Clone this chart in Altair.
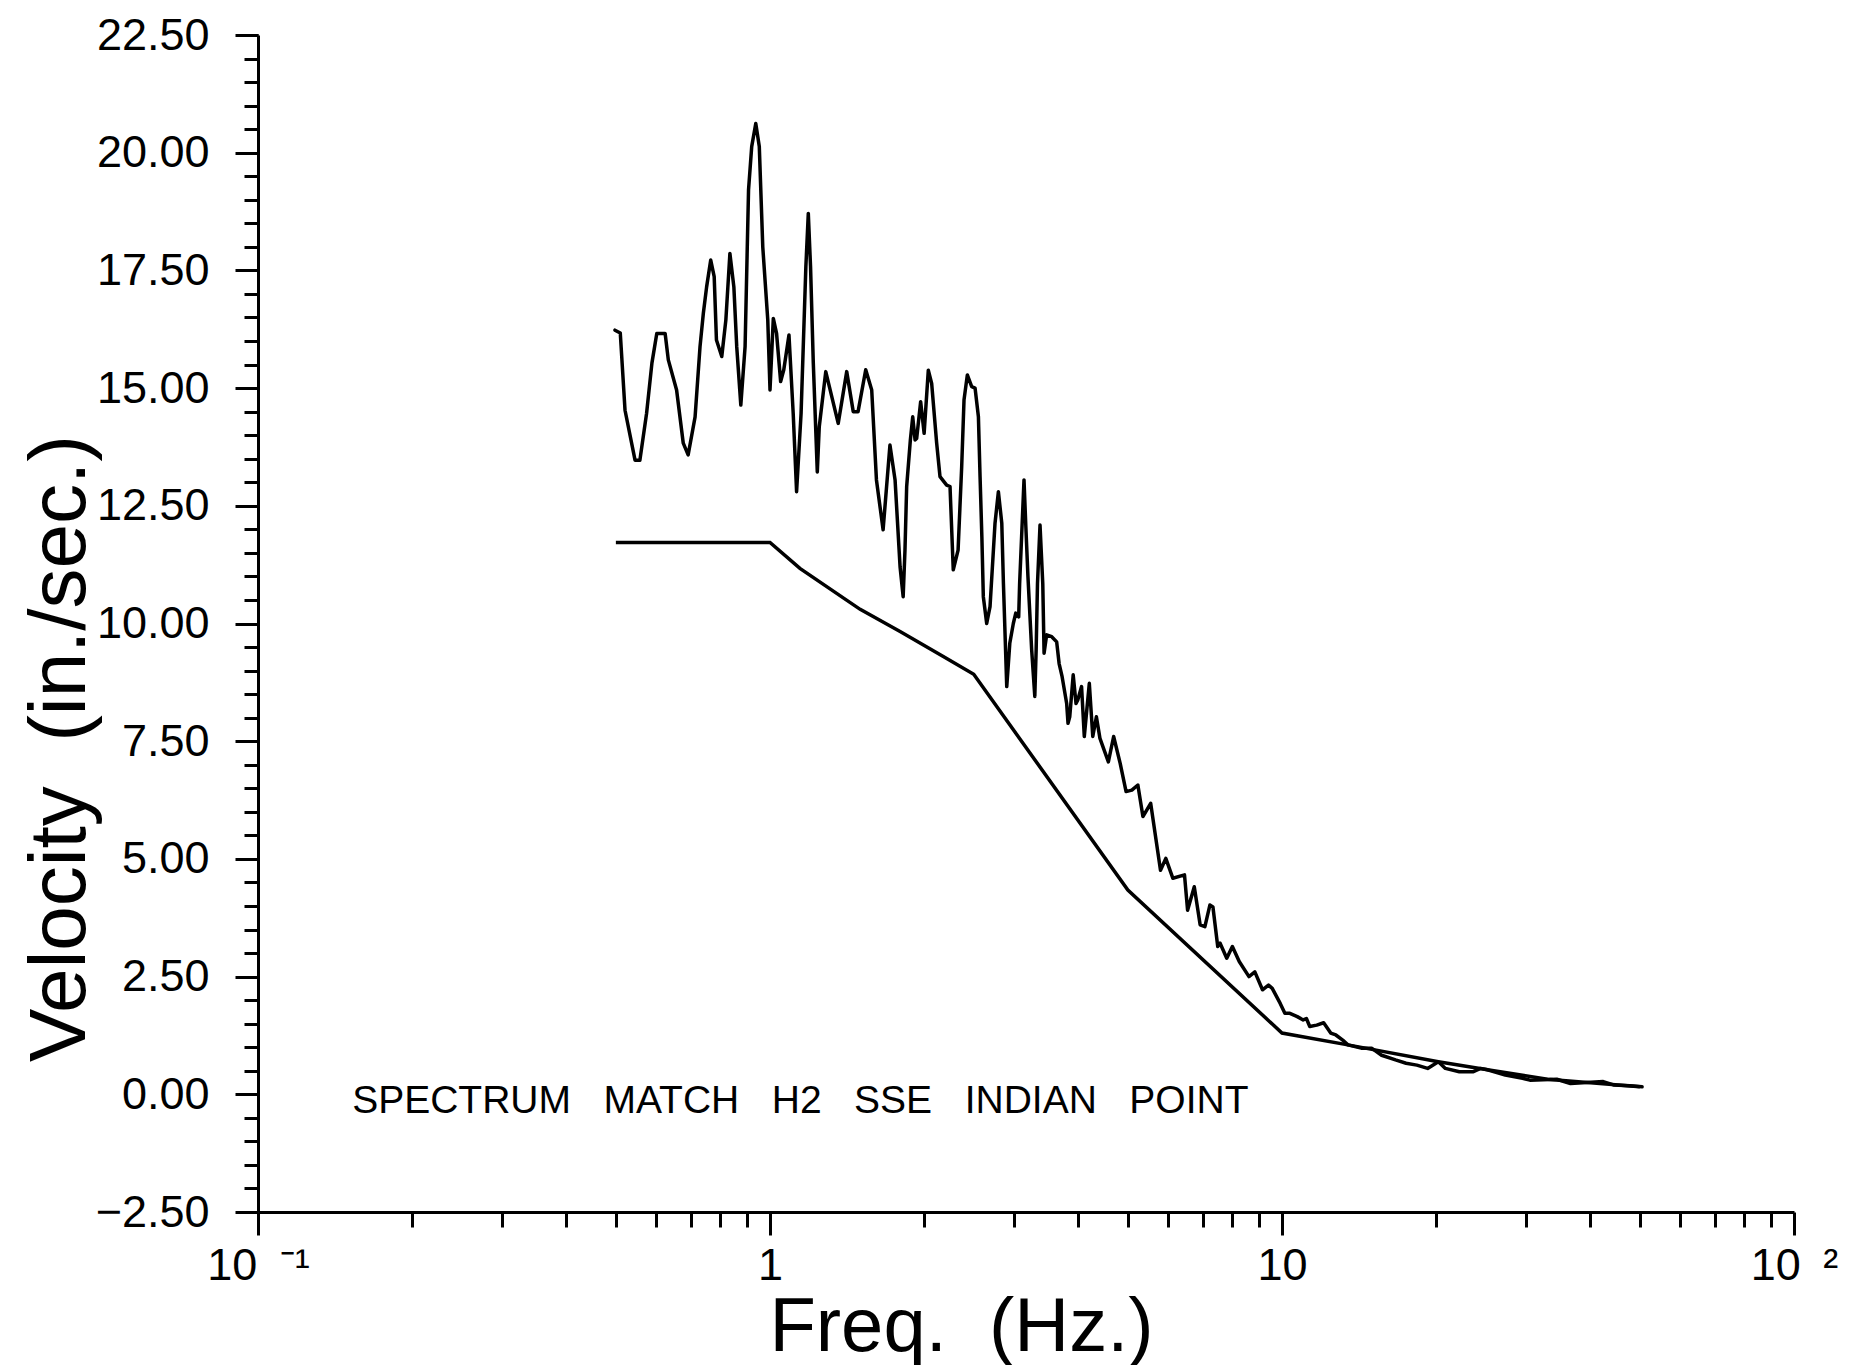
import altair as alt
import pandas as pd

# ---- data ----
freq_hz = [0.498, 0.51, 0.521, 0.545, 0.557, 0.574, 0.588, 0.601, 0.624, 0.633,
           0.657, 0.677, 0.692, 0.714, 0.730, 0.741, 0.752, 0.766, 0.778, 0.786,
           0.805, 0.820, 0.835, 0.850, 0.861, 0.877, 0.894, 0.908, 0.921, 0.938,
           0.953, 0.968, 0.99, 1.0, 1.015, 1.03, 1.049, 1.064, 1.089, 1.11,
           1.127, 1.15, 1.175, 1.188, 1.20, 1.215, 1.237, 1.248, 1.285, 1.306,
           1.359, 1.412, 1.454, 1.486, 1.538, 1.58, 1.614, 1.663, 1.715, 1.755,
           1.795, 1.82, 1.835, 1.849, 1.88, 1.90, 1.92, 1.934, 1.969, 2.0,
           2.038, 2.069, 2.116, 2.148, 2.213, 2.247, 2.280, 2.33, 2.368, 2.393,
           2.429, 2.477, 2.515, 2.553, 2.572, 2.593, 2.61, 2.65, 2.69, 2.751,
           2.793, 2.836, 2.857, 2.90, 2.94, 2.987, 3.02, 3.06, 3.073, 3.134,
           3.16, 3.19, 3.244, 3.29, 3.31, 3.33, 3.368, 3.41, 3.43, 3.47,
           3.55, 3.63, 3.67, 3.72, 3.797, 3.82, 3.85, 3.91, 3.96, 3.99,
           4.06, 4.11, 4.204, 4.27, 4.34, 4.41, 4.58, 4.69, 4.83, 4.96,
           5.09, 5.23, 5.35, 5.54, 5.79, 5.93, 6.12, 6.45, 6.54, 6.74,
           6.92, 7.07, 7.23, 7.33, 7.49, 7.57, 7.80, 8.0, 8.25, 8.62,
           8.85, 9.16, 9.41, 9.57, 9.92, 10.13, 10.36, 10.71, 11.0, 11.16,
           11.33, 11.69, 12.06, 12.45, 12.74, 13.14, 13.45, 14.28, 14.96, 15.65,
           16.66, 17.47, 18.34, 19.25, 20.2, 20.85, 22.2, 23.65, 24.42, 25.2,
           27.3, 29.5, 30.5, 34.4, 36.6, 42.4, 44.4, 47.8, 50.5]
velocity = [16.23, 16.17, 14.53, 13.47, 13.47, 14.46, 15.53, 16.16, 16.16, 15.6,
            14.96, 13.83, 13.58, 14.39, 15.88, 16.59, 17.15, 17.72, 17.37, 16.02,
            15.67, 16.45, 17.86, 17.15, 15.88, 14.64, 15.88, 19.21, 20.13, 20.62,
            20.13, 18.0, 16.45, 14.96, 16.48, 16.16, 15.14, 15.39, 16.13, 14.46,
            12.8, 14.46, 17.58, 18.71, 17.58, 15.53, 13.22, 14.18, 15.35, 15.03,
            14.25, 15.35, 14.5, 14.5, 15.39, 14.96, 13.05, 11.99, 13.79, 13.05,
            11.2, 10.57, 11.56, 12.91, 13.9, 14.39, 13.9, 13.93, 14.71, 14.04,
            15.38, 15.1, 13.83, 13.12, 12.94, 12.91, 11.14, 11.56, 13.33, 14.75,
            15.28, 15.03, 15.0, 14.39, 13.12, 11.84, 10.57, 10.0, 10.36, 12.13,
            12.8, 12.13, 10.85, 8.66, 9.58, 10.0, 10.22, 10.14, 10.85, 13.05,
            12.06, 11.0, 9.44, 8.45, 9.44, 10.85, 12.09, 10.85, 9.37, 9.76,
            9.72, 9.61, 9.15, 8.87, 8.3, 7.88, 8.02, 8.91, 8.3, 8.37,
            8.66, 7.6, 8.73, 7.6, 8.02, 7.56, 7.06, 7.6, 7.03, 6.43,
            6.46, 6.57, 5.9, 6.18, 4.76, 5.01, 4.59, 4.66, 3.91, 4.41,
            3.6, 3.56, 4.02, 3.98, 3.14, 3.21, 2.89, 3.14, 2.82, 2.5,
            2.6, 2.22, 2.32, 2.25, 1.93, 1.72, 1.72, 1.65, 1.58, 1.61,
            1.44, 1.47, 1.52, 1.3, 1.26, 1.15, 1.05, 0.98, 0.98, 0.83,
            0.73, 0.66, 0.62, 0.55, 0.69, 0.55, 0.48, 0.48, 0.55, 0.52,
            0.41, 0.34, 0.3, 0.32, 0.23, 0.27, 0.2, 0.18, 0.16]

target_freq = [0.5, 1.0, 1.144, 1.5, 1.795, 2.18, 2.5, 5.0, 10.0, 13.45, 20.2, 25.2, 33.0, 50.0]
target_vel = [11.72, 11.72, 11.17, 10.3, 9.83, 9.3, 8.92, 4.34, 1.3, 1.05, 0.69, 0.52, 0.32, 0.16]

y_major = [-2.5, 0.0, 2.5, 5.0, 7.5, 10.0, 12.5, 15.0, 17.5, 20.0, 22.5]
y_minor = [round(-2.5 + 0.5 * i, 2) for i in range(51)]
x_major = [0.1, 1, 10, 100]
x_minor = [0.2, 0.3, 0.4, 0.5, 0.6, 0.7, 0.8, 0.9,
           2, 3, 4, 5, 6, 7, 8, 9,
           20, 30, 40, 50, 60, 70, 80, 90]

note_text = "SPECTRUM\u00a0\u00a0\u00a0MATCH\u00a0\u00a0\u00a0H2\u00a0\u00a0\u00a0SSE\u00a0\u00a0\u00a0INDIAN\u00a0\u00a0\u00a0POINT"
note = pd.DataFrame({"f": [0.1527], "v": [-0.40], "label": [note_text]})

spec_df = pd.DataFrame({"f": freq_hz, "v": velocity})
target_df = pd.DataFrame({"f": target_freq, "v": target_vel})

FONT = "Liberation Sans"
xscale = alt.Scale(type="log", domain=[0.1, 100], nice=False)
yscale = alt.Scale(domain=[-2.5, 22.5], nice=False, zero=False)

x_axis_main = alt.Axis(
    orient="bottom", values=x_major, grid=False,
    tickSize=23, tickWidth=3, domainWidth=3,
    labelFontSize=45, labelPadding=8, labelBaseline="top",
    labelFlush=False, labelOverlap=False,
    labelExpr="datum.value < 0.5 ? '10\u2002\u207b\u00b9' : (datum.value > 50 ? '10\u2002\u00b2' : (datum.value < 5 ? '1' : '10'))",
    title="Freq.\u00a0\u00a0(Hz.)", titleFontSize=76, titleFontWeight="normal",
    titleX=703, titleY=138, titleAlign="center", titleBaseline="alphabetic",
)
y_axis_main = alt.Axis(
    orient="left", values=y_major, format=".2f", grid=False,
    tickSize=23, tickWidth=3, domainWidth=3,
    labelFontSize=45, labelPadding=26, labelBaseline="middle",
    labelFlush=False, labelOverlap=False,
    title="Velocity\u00a0\u00a0(in./sec.)", titleFontSize=80, titleFontWeight="normal",
    titleX=-174, titleY=713, titleAngle=270, titleAlign="center", titleBaseline="alphabetic",
)
x_axis_minor = alt.Axis(orient="bottom", values=x_minor, grid=False, domain=False,
                        labels=False, tickSize=15, tickWidth=3, title=None)
y_axis_minor = alt.Axis(orient="left", values=y_minor, grid=False, domain=False,
                        labels=False, tickSize=14, tickWidth=3, title=None)

target = alt.Chart(target_df).mark_line(color="black", strokeWidth=3.5).encode(
    x=alt.X("f:Q", scale=xscale, axis=x_axis_main),
    y=alt.Y("v:Q", scale=yscale, axis=y_axis_main),
)
spectrum = alt.Chart(spec_df).mark_line(
    color="black", strokeWidth=3.5, strokeJoin="round", strokeCap="round"
).encode(
    x=alt.X("f:Q", scale=xscale, axis=x_axis_minor),
    y=alt.Y("v:Q", scale=yscale, axis=y_axis_minor),
)
label = alt.Chart(note).mark_text(
    align="left", baseline="alphabetic", font=FONT, fontSize=39, color="black"
).encode(
    x=alt.X("f:Q", scale=xscale, axis=None),
    y=alt.Y("v:Q", scale=yscale, axis=None),
    text="label:N",
)

chart = alt.layer(target, spectrum, label).resolve_axis(
    x="independent", y="independent"
).properties(
    width=1536, height=1177,
    autosize=alt.AutoSizeParams(type="none"),
    padding={"left": 258, "top": 35, "right": 60, "bottom": 153},
    background="white",
).configure_view(stroke=None).configure_axis(
    labelFont=FONT, titleFont=FONT, labelColor="black", titleColor="black",
    domainColor="black", tickColor="black",
)

chart.save("out.html", embed_options={"renderer": "svg", "actions": False})
